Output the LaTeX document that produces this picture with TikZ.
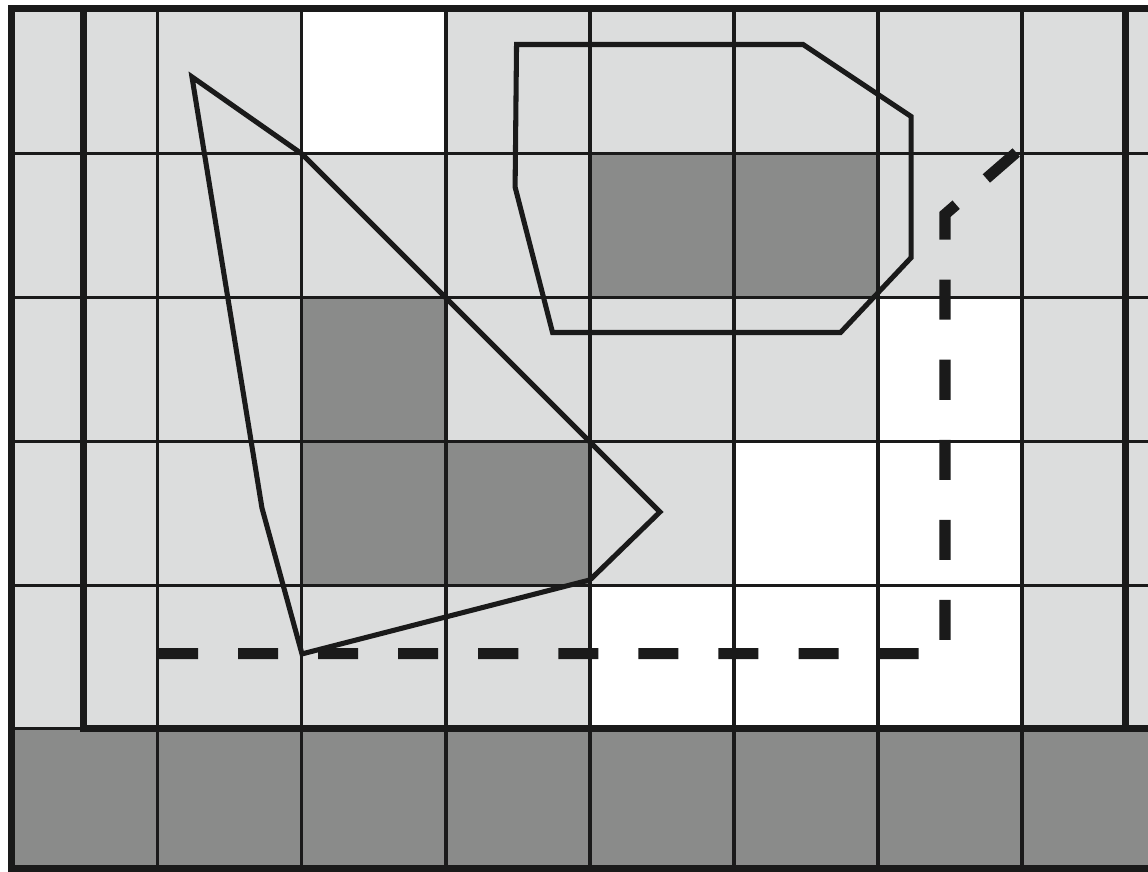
\documentclass[tikz,border=0pt]{standalone}
\definecolor{lightcell}{HTML}{DCDDDD}
\definecolor{darkcell}{HTML}{8A8B8A}
\definecolor{ink}{HTML}{1A1A1A}
\begin{document}
\begin{tikzpicture}[
    thin grid/.style={ink, line width=0.6pt},
    thick grid/.style={ink, line width=1.4pt},
    outline/.style={ink, line width=1pt, line join=miter},
    route/.style={ink, line width=2.2pt, dash pattern=on 0.278cm off 0.278cm}]
                    \useasboundingbox (-0.097,0.014) rectangle (7.875,6.069);
                    \fill[lightcell] (-0.017,1.01) rectangle (7.875,6.01);
                    \fill[darkcell] (-0.017,0.035) rectangle (7.875,1.01);
                    \foreach \x/\y in {2/5,6/3,5/2,6/2,4/1,5/1,6/1}
                        \fill[white] (\x,\y) rectangle ++(1,1);
                    \foreach \x/\y in {4/4,5/4,2/3,2/2,3/2}
                        \fill[darkcell] (\x,\y) rectangle ++(1,1);
                    \foreach \x in {1,...,7}
                        \draw[thin grid] (\x,0.035) -- (\x,6.01);
                    \foreach \y in {2,...,5}
                        \draw[thin grid] (-0.017,\y) -- (7.875,\y);
                    \draw[thin grid] (-0.017,1.01) -- (0.486,1.01);
                    \draw[thick grid] (0.486,6.01) -- (0.486,1.01) -- (7.875,1.01);
                    \draw[thick grid] (7.72,1.01) -- (7.72,6.01);
                    \draw[thick grid] (7.875,6.01) -- (-0.017,6.01) -- (-0.017,0.035) -- (7.875,0.035);
                    \draw[outline] (1.236,5.535) -- (2,5) -- (4,3) -- (4.486,2.514) -- (4,2.042) -- (2,1.528) -- (1.722,2.542) -- cycle;
                    \draw[outline] (3.49,5.76) -- (5.48,5.76) -- (6.23,5.26) -- (6.23,4.28) -- (5.74,3.76) -- (3.74,3.76) -- (3.48,4.77) -- cycle;
                    \draw[route] (1,1.53) -- (6.465,1.53) -- (6.465,4.58) -- (6.96,5.01);
                \end{tikzpicture}
\end{document}
